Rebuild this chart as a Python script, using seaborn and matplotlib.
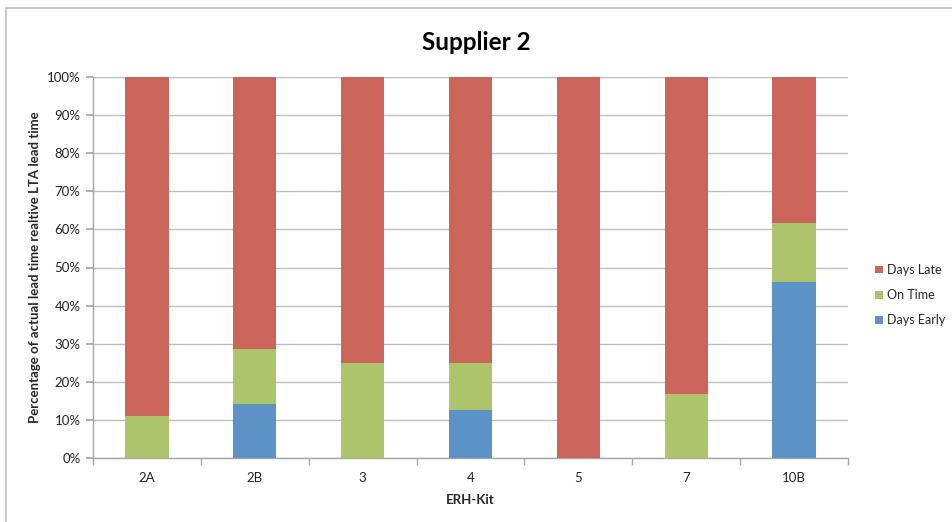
import numpy as np
import pandas as pd
import matplotlib
matplotlib.use("Agg")
import matplotlib.pyplot as plt
from matplotlib.lines import Line2D
from matplotlib.patches import Patch
from matplotlib.ticker import FixedLocator, PercentFormatter
import seaborn as sns

kits = ["2A", "2B", "3", "4", "5", "7", "10B"]
days_early = [0.0, 14.3, 0.0, 12.5, 0.0, 0.0, 46.2]
on_time = [11.1, 14.3, 25.0, 12.5, 0.0, 16.7, 15.4]
days_late = [88.9, 71.4, 75.0, 75.0, 100.0, 83.3, 38.4]

colors = {"Days Late": "#CB6559", "On Time": "#ADC46B", "Days Early": "#5D92C7"}

sns.set_theme(style="white")
plt.rcParams["font.family"] = ["Lato", "DejaVu Sans"]

df = pd.DataFrame({"kit": kits, "early": days_early, "ontime": on_time, "late": days_late})
df["top_early"] = df["early"]
df["top_ontime"] = df["early"] + df["ontime"]
df["top_late"] = df["early"] + df["ontime"] + df["late"]

fig = plt.figure(figsize=(9.52, 5.22), dpi=100)
ax = fig.add_axes([93 / 952, 64 / 522, 755 / 952, 381 / 522])

for col, name in [("top_late", "Days Late"), ("top_ontime", "On Time"), ("top_early", "Days Early")]:
    sns.barplot(data=df, x="kit", y=col, color=colors[name], width=0.4,
                saturation=1, ax=ax, zorder=3, linewidth=0)

ax.set_ylim(0, 100)
ax.set_xlim(-0.5, len(kits) - 0.5)
ax.yaxis.set_major_locator(FixedLocator(np.arange(0, 101, 10)))
ax.yaxis.set_major_formatter(PercentFormatter(decimals=0))
ax.grid(axis="y", color="#BEBEBE", linewidth=1, zorder=0)
ax.set_axisbelow(True)

for s in ["top", "right"]:
    ax.spines[s].set_visible(False)
for s in ["left", "bottom"]:
    ax.spines[s].set_color("#A6A6A6")
    ax.spines[s].set_linewidth(1)

ax.tick_params(axis="y", which="major", left=True, length=5, color="#A6A6A6",
               labelsize=9.5, labelcolor="#222222", pad=4)
ax.tick_params(axis="x", which="major", bottom=False, length=0, labelsize=9.5,
               labelcolor="#222222", pad=10)
ax.xaxis.set_minor_locator(FixedLocator(np.arange(-0.5, len(kits), 1)))
ax.tick_params(axis="x", which="minor", bottom=True, length=5, color="#A6A6A6")

ax.set_xlabel("ERH-Kit", fontsize=9.5, fontweight="bold", labelpad=7)
ax.set_ylabel("Percentage of actual lead time realtive LTA lead time",
              fontsize=9.5, fontweight="bold", labelpad=4)

fig.text(0.5, 1 - 42 / 522, "Supplier 2", ha="center", va="center",
         fontsize=17.5, fontweight="bold", color="black")

handles = [Patch(facecolor=colors[n], edgecolor="none", label=n)
           for n in ["Days Late", "On Time", "Days Early"]]
fig.legend(handles=handles, loc="center left", bbox_to_anchor=(864 / 952, 1 - 295 / 522),
           frameon=False, fontsize=9, handlelength=0.6, handleheight=0.6,
           handletextpad=0.35, labelspacing=1.05)

# outer chart frame
fig.add_artist(Line2D([5.5 / 952, 1.0], [1 - 8 / 522, 1 - 8 / 522],
                      transform=fig.transFigure, color="#BDBDBD", linewidth=1.2))
fig.add_artist(Line2D([5.5 / 952, 5.5 / 952], [0.0, 1 - 8 / 522],
                      transform=fig.transFigure, color="#BDBDBD", linewidth=1.2))

fig.savefig("out.png", dpi=100)
